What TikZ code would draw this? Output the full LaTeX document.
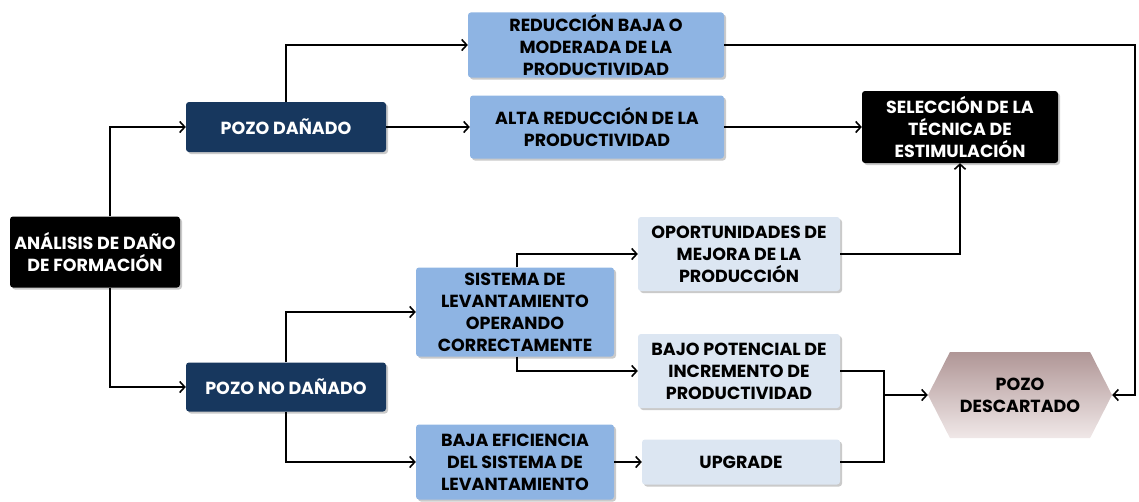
\documentclass[tikz,border=0pt]{standalone}
\usepackage{fontspec}
\setmainfont{Poppins}
\usetikzlibrary{shapes.symbols,arrows.meta,shadows}
\definecolor{navy}{HTML}{17375E}
\definecolor{midblue}{HTML}{8EB4E3}
\definecolor{paleblue}{HTML}{DCE6F2}
\definecolor{hextop}{HTML}{B09696}
\definecolor{hexbot}{HTML}{F0E8E8}
\tikzset{
  txt/.style={font=\bfseries\fontsize{17.5}{22}\selectfont},
  box/.style={rounded corners=3pt, align=center, inner sep=2pt, txt,
    drop shadow={shadow xshift=2pt, shadow yshift=-2pt, opacity=0.35, fill=black!60}},
  blackbox/.style={box, fill=black, text=white},
  navybox/.style={box, fill=navy, text=white},
  bluebox/.style={box, fill=midblue, text=black},
  palebox/.style={box, fill=paleblue, text=black},
  conn/.style={line width=1.8pt, -{Straight Barb[length=5pt,width=11pt,line width=1.6pt]}},
  line/.style={line width=1.8pt},
}
\begin{document}
\begin{tikzpicture}[x=1pt,y=-1pt]
\useasboundingbox (0,0) rectangle (1139,501);
% nodes
\node[blackbox, minimum width=170pt, minimum height=71pt] (ana) at (95,252) {ANÁLISIS DE DAÑO\\DE FORMACIÓN};
\node[navybox, minimum width=200pt, minimum height=50pt] (pd) at (286,127) {POZO DAÑADO};
\node[navybox, minimum width=200pt, minimum height=49pt] (pnd) at (286,387) {POZO NO DAÑADO};
\node[bluebox, minimum width=256pt, minimum height=65pt] (red) at (596,45) {REDUCCIÓN BAJA O\\MODERADA DE LA\\PRODUCTIVIDAD};
\node[bluebox, minimum width=254pt, minimum height=63pt] (alta) at (597,127) {ALTA REDUCCIÓN DE LA\\PRODUCTIVIDAD};
\node[blackbox, minimum width=196pt, minimum height=72pt] (sel) at (960,127) {SELECCIÓN DE LA\\TÉCNICA DE\\ESTIMULACIÓN};
\node[palebox, minimum width=202pt, minimum height=74pt] (opo) at (739,254) {OPORTUNIDADES DE\\MEJORA DE LA\\PRODUCCIÓN};
\node[bluebox, minimum width=198pt, minimum height=89pt] (sis) at (515,312) {SISTEMA DE\\LEVANTAMIENTO\\OPERANDO\\CORRECTAMENTE};
\node[palebox, minimum width=202pt, minimum height=74pt] (bajo) at (739,371) {BAJO POTENCIAL DE\\INCREMENTO DE\\PRODUCTIVIDAD};
\node[bluebox, minimum width=198pt, minimum height=75pt] (bef) at (515,462) {BAJA EFICIENCIA\\DEL SISTEMA DE\\LEVANTAMIENTO};
\node[palebox, minimum width=198pt, minimum height=45pt] (upg) at (741,462) {UPGRADE};
\node[signal, signal to=west and east, signal pointer angle=126,
  minimum width=184pt, minimum height=86pt, inner sep=0pt,
  top color=hextop, bottom color=hexbot, draw=none, align=center, txt] (desc) at (1020,395) {POZO\\DESCARTADO};
% junction coordinates
\coordinate (j1) at (884,395);
\coordinate (rt) at (1135,45);
% connectors
\draw[conn] (ana.north -| 110,0) |- (pd.west);
\draw[conn] (ana.south -| 110,0) |- (pnd.west);
\draw[conn] (pd.north) |- (red.west);
\draw[conn] (pd.east) -- (alta.west);
\draw[conn] (alta.east) -- (sel.west);
\draw[conn] (red.east) -- (rt) |- (desc.east);
\draw[conn] (opo.east) -| (sel.south);
\draw[conn] (pnd.north) |- (sis.west);
\draw[conn] (pnd.south) |- (bef.west);
\draw[conn] (sis.north -| 517,0) |- (opo.west);
\draw[conn] (sis.south -| 517,0) |- (bajo.west);
\draw[conn] (bef.east) -- (upg.west);
\draw[line] (bajo.east) -| (j1);
\draw[line] (upg.east) -| (j1);
\draw[conn] (j1) -- (desc.west);
\end{tikzpicture}
\end{document}
